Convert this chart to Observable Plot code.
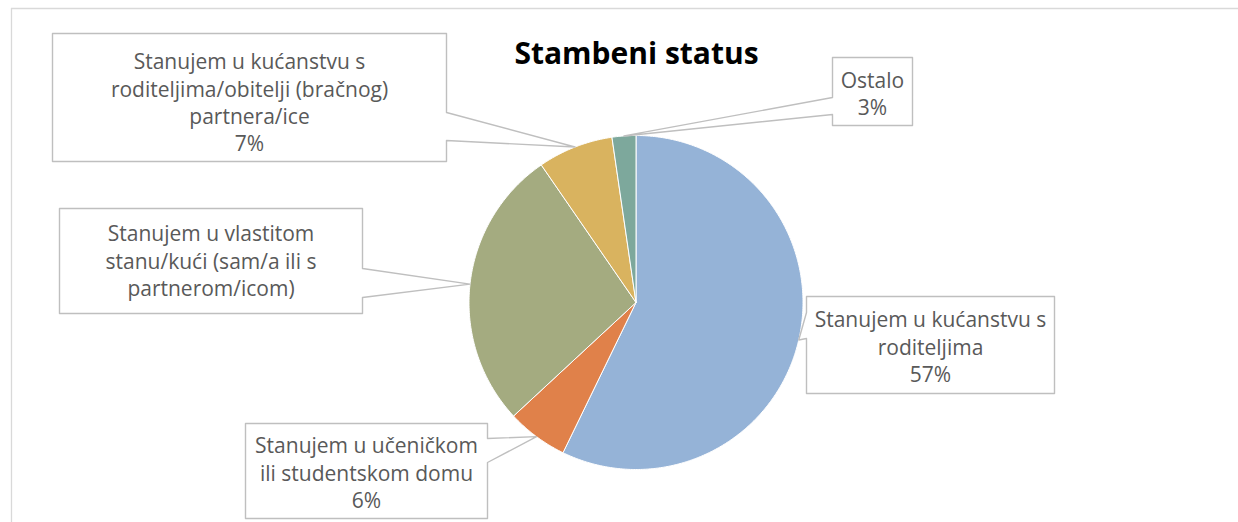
<!DOCTYPE html>
<html>
<head>
<meta charset="utf-8">
<script src="https://cdn.jsdelivr.net/npm/d3@7"></script>
<script src="https://cdn.jsdelivr.net/npm/@observablehq/plot@0.6"></script>
<style>
  html, body { margin: 0; padding: 0; background: #ffffff; }
  svg { display: block; }
</style>
</head>
<body>
<div id="chart"></div>
<script>
// ---- data ----
const title = "Stambeni status";
const categories = [
  "Stanujem u kućanstvu s roditeljima",
  "Stanujem u učeničkom ili studentskom domu",
  "Stanujem u vlastitom stanu/kući (sam/a ili s partnerom/icom)",
  "Stanujem u kućanstvu s roditeljima/obitelji (bračnog) partnera/ice",
  "Ostalo"
];
const shares = [57.2, 5.9, 27.3, 7.3, 2.3];
const percentLabels = ["57%", "6%", "27%", "7%", "3%"];
const labelLines = [
  ["Stanujem u kućanstvu s", "roditeljima"],
  ["Stanujem u učeničkom", "ili studentskom domu"],
  ["Stanujem u vlastitom", "stanu/kući (sam/a ili s", "partnerom/icom)"],
  ["Stanujem u kućanstvu s", "roditeljima/obitelji (bračnog)", "partnera/ice"],
  ["Ostalo"]
];
const sliceColors = ["#95b3d7", "#e0814a", "#a4ab80", "#d9b35f", "#7da89c"];
const showPercent = [true, true, false, true, true];

// ---- layout ----
const W = 1238, H = 522;
const cx = 635.5, cy = 302, R = 167;
const boxes = [
  {x0: 806, y0: 296, x1: 1054, y1: 393, side: "left",  b0: 312, b1: 338, dy: 1},
  {x0: 245, y0: 423, x1: 487,  y1: 518, side: "right", b0: 438, b1: 462, dy: 1},
  {x0: 59,  y0: 208, x1: 362,  y1: 313, side: "right", b0: 268, b1: 297, dy: -1},
  {x0: 52,  y0: 33,  x1: 446,  y1: 161, side: "right", b0: 112, b1: 140, dy: 4},
  {x0: 832, y0: 57,  x1: 912,  y1: 125, side: "left",  b0: 97,  b1: 114, dy: 1}
];

const arcs = d3.pie().sort(null).value(d => d)(shares);
const pt = (a, r) => [cx + r * Math.sin(a), cy - r * Math.cos(a)];

// pie slice outlines
const slicePts = [];
arcs.forEach((a, i) => {
  const n = Math.max(4, Math.ceil((a.endAngle - a.startAngle) / 0.01));
  slicePts.push({cat: categories[i], x: cx, y: cy});
  for (let k = 0; k <= n; k++) {
    const t = a.startAngle + (a.endAngle - a.startAngle) * k / n;
    const [x, y] = pt(t, R);
    slicePts.push({cat: categories[i], x, y});
  }
  slicePts.push({cat: categories[i], x: cx, y: cy});
});

// callout boxes
const calloutPts = [];
const labelData = [];
arcs.forEach((a, i) => {
  const b = boxes[i];
  const [ax, ay] = pt((a.startAngle + a.endAngle) / 2, R);
  let poly;
  if (b.side === "right") {
    poly = [[b.x0, b.y0], [b.x1, b.y0], [b.x1, b.b0], [ax, ay], [b.x1, b.b1], [b.x1, b.y1], [b.x0, b.y1], [b.x0, b.y0]];
  } else {
    poly = [[b.x0, b.y0], [b.x1, b.y0], [b.x1, b.y1], [b.x0, b.y1], [b.x0, b.b1], [ax, ay], [b.x0, b.b0], [b.x0, b.y0]];
  }
  poly.forEach(([x, y]) => calloutPts.push({id: i, x, y}));
  const lines = showPercent[i] ? [...labelLines[i], percentLabels[i]] : labelLines[i];
  labelData.push({x: (b.x0 + b.x1) / 2, y: (b.y0 + b.y1) / 2 + b.dy, text: lines.join("\n")});
});

const chart = Plot.plot({
  width: W,
  height: H,
  margin: 0,
  x: {domain: [0, W], range: [0, W], axis: null},
  y: {domain: [0, H], range: [0, H], axis: null},
  color: {type: "ordinal", domain: categories, range: sliceColors},
  style: {fontFamily: "'Open Sans', sans-serif", background: "#ffffff"},
  marks: [
    Plot.ruleY([8], {x1: () => 11, x2: () => W, stroke: "#d9d9d9", strokeWidth: 1.3}),
    Plot.ruleX([11], {y1: () => 8, y2: () => H, stroke: "#d9d9d9", strokeWidth: 1.3}),
    Plot.line(slicePts, {x: "x", y: "y", z: "cat", fill: "cat", stroke: "#ffffff", strokeWidth: 1, curve: "linear"}),
    Plot.line(calloutPts, {x: "x", y: "y", z: "id", fill: "#ffffff", stroke: "#bfbfbf", strokeWidth: 1.4, curve: "linear"}),
    Plot.text(labelData, {x: "x", y: "y", text: "text", fontSize: 21, lineHeight: 1.3, fill: "#595959", textAnchor: "middle"}),
    Plot.text([title], {x: () => 636, y: () => 54, text: d => d, fontSize: 30, fontWeight: "bold", fill: "#000000", textAnchor: "middle"})
  ]
});
document.getElementById("chart").appendChild(chart);
</script>
</body>
</html>
